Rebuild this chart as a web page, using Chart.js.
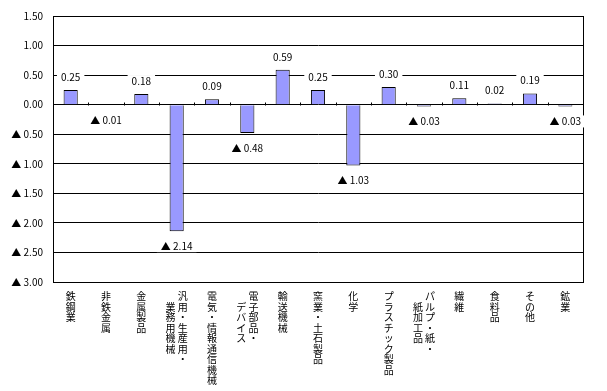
<!DOCTYPE html>
<html lang="ja">
<head>
  <meta charset="UTF-8">
  <title>業種別寄与度</title>
  <script src="https://cdn.jsdelivr.net/npm/chart.js"></script>
  <style>
    body { margin: 0; padding: 0; background: #fff; }
    .chart-container { width: 607px; height: 391px; }
  </style>
</head>
<body>
  <div class="chart-container">
    <canvas id="chartCanvas"></canvas>
  </div>

  <script>
    // 業種名（2列のものは [右列, 左列]）
    const categories = [
      "鉄鋼業", "非鉄金属", "金属製品", ["汎用・生産用・", "業務用機械"],
      "電気・情報通信機械", ["電子部品・", "デバイス"], "輸送機械", "窯業・土石製品",
      "化学", "プラスチック製品", ["パルプ・紙・", "紙加工品"], "繊維",
      "食料品", "その他", "鉱業"
    ];
    const values = [0.25, -0.01, 0.18, -2.14, 0.09, -0.48, 0.59, 0.25, -1.03, 0.30, -0.03, 0.11, 0.02, 0.19, -0.03];
    const yMin = -3.0;
    const yMax = 1.5;
    const yStep = 0.5;

    const numFont = "'Noto Sans CJK JP', sans-serif";

    function fmt(v) {
      return v < 0 ? "▲ " + (-v).toFixed(2) : v.toFixed(2);
    }

    // 縦書きラベルを1文字ずつの行に分ける
    function verticalLines(cat) {
      if (typeof cat === "string") return cat.split("");
      const right = cat[0].split("");
      const left = cat[1].split("");
      const n = Math.max(right.length, left.length + 1);
      const lines = [];
      for (let i = 0; i < n; i++) {
        const l = i > 0 && left[i - 1] ? left[i - 1] : "\u3000";
        const r = right[i] ? right[i] : "\u3000";
        lines.push(l + " " + r);
      }
      return lines;
    }

    const framePlugin = {
      id: "frame",
      beforeDatasetsDraw(chart) {
        const { ctx, chartArea: a, scales } = chart;
        ctx.save();
        ctx.strokeStyle = "#000";
        ctx.lineWidth = 1;
        ctx.strokeRect(Math.round(a.left) + 0.5, Math.round(a.top) + 0.5,
          Math.round(a.right - a.left), Math.round(a.bottom - a.top));
        // 0 線の目盛り
        const y0 = Math.round(scales.y.getPixelForValue(0)) + 0.5;
        ctx.beginPath();
        for (let i = 1; i < categories.length; i++) {
          const x = Math.round(scales.x.getPixelForValue(i - 0.5)) + 0.5;
          ctx.moveTo(x, y0);
          ctx.lineTo(x, y0 - 3);
        }
        ctx.stroke();
        ctx.restore();
      }
    };

    const labelPlugin = {
      id: "valueLabels",
      afterDatasetsDraw(chart) {
        const { ctx } = chart;
        const meta = chart.getDatasetMeta(0);
        ctx.save();
        ctx.font = "10px " + numFont;
        ctx.textAlign = "center";
        ctx.textBaseline = "middle";
        meta.data.forEach((bar, i) => {
          const v = values[i];
          const text = fmt(v);
          const ty = v < 0 ? bar.y + 15 : bar.y - 13;
          const w = ctx.measureText(text).width;
          ctx.fillStyle = "#fff";
          ctx.fillRect(bar.x - w / 2 - 4, ty - 6, w + 8, 12);
          ctx.fillStyle = "#000";
          ctx.fillText(text, bar.x, ty);
        });
        ctx.restore();
      }
    };

    const ctx = document.getElementById("chartCanvas").getContext("2d");
    new Chart(ctx, {
      type: "bar",
      data: {
        labels: categories.map((c) => (typeof c === "string" ? c : c.join(""))),
        datasets: [{
          data: values,
          backgroundColor: "#9999ff",
          borderColor: "#000",
          borderWidth: 1,
          categoryPercentage: 1,
          barPercentage: 0.4
        }]
      },
      options: {
        responsive: true,
        maintainAspectRatio: false,
        animation: false,
        layout: { padding: { left: 0, right: 24, top: 13, bottom: 0 } },
        plugins: {
          legend: { display: false },
          tooltip: { enabled: false }
        },
        scales: {
          x: {
            grid: { display: false },
            border: { display: false },
            ticks: {
              autoSkip: false,
              maxRotation: 0,
              minRotation: 0,
              padding: 1,
              color: "#000",
              font: { family: "'Noto Sans CJK JP'", size: 10, lineHeight: 1.05 },
              callback: (value, index) => verticalLines(categories[index])
            },
            afterFit: (scale) => { scale.height = 109; }
          },
          y: {
            min: yMin,
            max: yMax,
            grid: { color: "#000", lineWidth: 1, drawTicks: false },
            border: { display: true, color: "#000" },
            ticks: {
              stepSize: yStep,
              padding: 10,
              color: "#000",
              font: { family: numFont, size: 10 },
              callback: (v) => fmt(v)
            },
            afterFit: (scale) => { scale.width = 53; }
          }
        }
      },
      plugins: [framePlugin, labelPlugin]
    });
  </script>
</body>
</html>
